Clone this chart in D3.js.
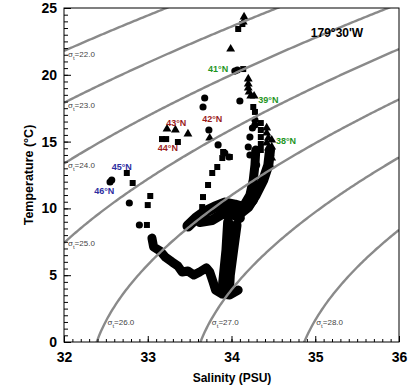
<!DOCTYPE html>
<html>
<head>
<meta charset="utf-8">
<script src="https://cdn.jsdelivr.net/npm/d3@7"></script>
<style>
body { margin: 0; background: #fff; }
text { font-family: Arial, "Liberation Sans", sans-serif; }
</style>
</head>
<body>
<script>
// isopycnal levels (sigma-t)
var sigmaLevels = [22, 23, 24, 25, 26, 27, 28]

var xTicks = [32, 33, 34, 35, 36]
var yTicks = [0, 5, 10, 15, 20, 25]

// station labels, [salinity, temperature] of the label centre
var stationNames = ['46°N', '45°N', '44°N', '43°N', '42°N', '41°N', '39°N', '38°N']
var stationPos = [[32.48, 11.30], [32.69, 13.10], [33.24, 14.52], [33.34, 16.39],
    [33.77, 16.69], [33.84, 20.43], [34.44, 18.11], [34.65, 15.04]]
var stationGroup = ['n', 'n', 'm', 'm', 'm', 's', 's', 's']

// sparse samples, [S, T]
var circles = [[32.55, 11.98], [32.57, 12.13], [32.78, 10.40], [32.90, 8.76],
    [33.68, 18.26], [33.66, 17.59], [33.73, 15.87], [33.84, 14.75],
    [34.04, 20.28], [34.07, 20.36], [34.10, 18.04],
    [34.28, 16.62], [34.28, 16.24], [34.25, 16.02], [34.22, 15.34], [34.20, 14.60],
    [34.22, 14.00], [34.28, 13.85], [34.30, 13.25], [33.92, 14.15], [33.97, 13.85]]

var squares = [[32.75, 12.65], [32.82, 11.90], [33.03, 10.93], [33.00, 10.25], [32.99, 8.76],
    [33.17, 15.19], [33.22, 15.19], [33.36, 14.97],
    [34.08, 23.43], [34.13, 23.80], [34.14, 20.43], [34.26, 17.59], [34.28, 17.22],
    [33.90, 14.22], [33.98, 13.85], [33.89, 13.77], [33.83, 13.10], [33.77, 12.65],
    [33.72, 11.75], [33.66, 10.85], [33.65, 10.10], [33.56, 9.13],
    [34.35, 16.39], [34.35, 15.87], [34.35, 15.34], [34.35, 14.82], [34.35, 14.37]]

var triangles = [[34.15, 24.33], [34.14, 23.95], [33.99, 21.93],
    [34.20, 19.69], [34.20, 19.31], [34.20, 19.01], [34.21, 18.71], [34.23, 18.41], [34.27, 18.41],
    [33.23, 15.94], [33.33, 15.87], [33.48, 15.57], [33.74, 15.27],
    [34.42, 16.02], [34.42, 15.64], [34.44, 15.27], [34.42, 14.90], [34.48, 15.12],
    [34.48, 14.60], [34.44, 14.52], [34.46, 14.15], [34.48, 13.77], [34.44, 13.62], [34.46, 13.25]]

// dense CTD traces (markers overlap into solid bands)
var traceShelf = [[33.05, 7.78], [33.07, 7.11], [33.15, 6.81], [33.21, 6.36], [33.29, 5.99],
    [33.36, 5.69], [33.41, 5.24], [33.48, 5.31], [33.55, 5.01], [33.62, 5.24], [33.70, 5.54],
    [33.74, 5.24], [33.78, 4.49], [33.81, 3.89], [33.89, 3.59], [33.98, 3.52], [34.08, 3.89]]
var traceStemA = [[33.96, 8.98], [33.94, 6.89], [33.91, 5.01], [33.89, 3.74]]
var traceStemB = [[34.06, 8.76], [34.02, 6.89], [33.98, 5.01], [33.97, 3.89]]
var traceBlobA = [[33.48, 8.68], [33.58, 9.28], [33.68, 9.73], [33.80, 10.10], [33.92, 10.40],
    [34.04, 10.25], [34.16, 10.03], [34.25, 10.63]]
var traceBlobB = [[33.62, 8.98], [33.77, 9.13], [33.89, 9.58], [34.01, 9.58], [34.10, 9.28]]
var traceArmA = [[34.46, 14.37], [34.44, 13.25], [34.38, 12.13], [34.29, 11.00], [34.20, 10.10], [34.08, 9.51]]
var traceArmB = [[34.29, 14.37], [34.28, 13.25], [34.26, 12.13], [34.22, 11.00], [34.15, 10.25]]

var traces = [traceShelf, traceStemA, traceStemB, traceBlobA, traceBlobB, traceArmA, traceArmB]
var traceWidths = [9, 10, 10, 11, 10, 10, 9]

var groupColor = {n: '#2d2d9f', m: '#9b1c1c', s: '#1f951f'}

var W = 413, H = 390
var x = d3.scaleLinear().domain([32, 36]).range([64, 399])
var y = d3.scaleLinear().domain([0, 25]).range([342, 8])

// UNESCO 1981 density at surface pressure, minus 1000
function sigmaT(S, T) {
    var rw = 999.842594 + 6.793952e-2 * T - 9.095290e-3 * T * T + 1.001685e-4 * Math.pow(T, 3)
        - 1.120083e-6 * Math.pow(T, 4) + 6.536332e-9 * Math.pow(T, 5)
    var a = 0.824493 - 4.0899e-3 * T + 7.6438e-5 * T * T - 8.2467e-7 * Math.pow(T, 3) + 5.3875e-9 * Math.pow(T, 4)
    var b = -5.72466e-3 + 1.0227e-4 * T - 1.6546e-6 * T * T
    return rw + a * S + b * Math.pow(S, 1.5) + 4.8314e-4 * S * S - 1000
}

// temperature on an isopycnal for a given salinity
function tempFor(S, sig) {
    var lo = -4, hi = 40
    for (var i = 0; i < 50; i++) {
        var mid = (lo + hi) / 2
        if (sigmaT(S, mid) > sig) lo = mid
        else hi = mid
    }
    return (lo + hi) / 2
}

// salinity where an isopycnal reaches temperature t
function saltFor(t, sig) {
    var lo = 30, hi = 38
    for (var i = 0; i < 50; i++) {
        var mid = (lo + hi) / 2
        if (sigmaT(mid, t) < sig) lo = mid
        else hi = mid
    }
    return (lo + hi) / 2
}

var svg = d3.select('body').append('svg')
    .attr('width', W)
    .attr('height', H)

svg.append('clipPath').attr('id', 'plot')
    .append('rect')
    .attr('x', 64).attr('y', 8)
    .attr('width', 335).attr('height', 334)

var plot = svg.append('g').attr('clip-path', 'url(#plot)')

var line = d3.line()
    .x(function (d) { return x(d[0]) })
    .y(function (d) { return y(d[1]) })

plot.selectAll('path.trace')
    .data(traces)
    .enter()
    .append('path')
    .attr('class', 'trace')
    .attr('d', line)
    .attr('fill', 'none')
    .attr('stroke', '#000')
    .attr('stroke-linejoin', 'round')
    .attr('stroke-linecap', 'round')
    .attr('stroke-width', function (d, i) { return traceWidths[i] })

function drawMarks(data, type, size) {
    plot.append('g').selectAll('path')
        .data(data)
        .enter()
        .append('path')
        .attr('transform', function (d) { return 'translate(' + x(d[0]) + ',' + y(d[1]) + ')' })
        .attr('d', d3.symbol().type(type).size(size))
        .attr('fill', '#000')
}
drawMarks(circles, d3.symbolCircle, 40)
drawMarks(squares, d3.symbolSquare, 36)
drawMarks(triangles, d3.symbolTriangle, 34)

// isopycnals
var salts = d3.range(32, 36.001, 0.02)
plot.selectAll('path.iso')
    .data(sigmaLevels)
    .enter()
    .append('path')
    .attr('class', 'iso')
    .attr('d', function (sig) {
        return line(salts.map(function (s) { return [s, tempFor(s, sig)] }))
    })
    .attr('fill', 'none')
    .attr('stroke', '#8a8a8a')
    .attr('stroke-width', 2.4)

// isopycnal labels
sigmaLevels.forEach(function (sig) {
    var t0 = tempFor(32, sig)
    var px, py
    if (t0 > 0 && t0 < 25) {
        px = 68
        py = y(tempFor(32.06, sig)) + 8
    } else {
        px = x(saltFor(1.5, sig)) + 2
        py = y(1.5) + 3
    }
    var t = svg.append('text')
        .attr('x', px).attr('y', py)
        .attr('font-size', 8)
        .attr('fill', '#444')
    t.append('tspan').text('σ')
    t.append('tspan').attr('font-size', 6).attr('dy', 3).text('t')
    t.append('tspan').attr('dy', -3).text('=' + sig.toFixed(1))
})

// frame
svg.append('rect')
    .attr('x', 64).attr('y', 8)
    .attr('width', 335).attr('height', 334)
    .attr('fill', 'none')
    .attr('stroke', '#000')
    .attr('stroke-width', 1)

// axes, ticks pointing inward
var xMinor = d3.range(32, 36.001, 0.1)
var yMinor = d3.range(0, 25.001, 0.5)

svg.append('g')
    .attr('transform', 'translate(0,342)')
    .call(d3.axisBottom(x).tickValues(xMinor).tickSize(-3).tickFormat(''))
    .call(function (g) { g.select('.domain').remove() })

svg.append('g')
    .attr('transform', 'translate(64,0)')
    .call(d3.axisLeft(y).tickValues(yMinor).tickSize(-4).tickFormat(''))
    .call(function (g) { g.select('.domain').remove() })

var xAxis = svg.append('g')
    .attr('transform', 'translate(0,342)')
    .call(d3.axisBottom(x).tickValues(xTicks).tickSize(-6).tickPadding(10).tickFormat(d3.format('d')))
xAxis.select('.domain').remove()

var yAxis = svg.append('g')
    .attr('transform', 'translate(64,0)')
    .call(d3.axisLeft(y).tickValues(yTicks).tickSize(-7).tickPadding(7).tickFormat(d3.format('d')))
yAxis.select('.domain').remove()

svg.selectAll('.tick text')
    .attr('font-family', 'Arial, "Liberation Sans", sans-serif')
    .attr('font-size', 14)
    .attr('font-weight', 'bold')
    .attr('fill', '#000')

// station labels
svg.selectAll('text.station')
    .data(stationNames)
    .enter()
    .append('text')
    .attr('class', 'station')
    .attr('x', function (d, i) { return x(stationPos[i][0]) })
    .attr('y', function (d, i) { return y(stationPos[i][1]) })
    .attr('dy', '0.35em')
    .attr('text-anchor', 'middle')
    .attr('font-size', 9)
    .attr('font-weight', 'bold')
    .attr('fill', function (d, i) { return groupColor[stationGroup[i]] })
    .text(function (d) { return d })

svg.append('text')
    .attr('x', x(35.26)).attr('y', y(23.13))
    .attr('dy', '0.35em')
    .attr('text-anchor', 'middle')
    .attr('font-size', 12)
    .attr('font-weight', 'bold')
    .text("179°30'W")

svg.append('text')
    .attr('x', 232).attr('y', 382)
    .attr('text-anchor', 'middle')
    .attr('font-size', 12)
    .attr('font-weight', 'bold')
    .text('Salinity (PSU)')

svg.append('text')
    .attr('transform', 'translate(33,175) rotate(-90)')
    .attr('text-anchor', 'middle')
    .attr('font-size', 12.5)
    .attr('font-weight', 'bold')
    .text('Temperature (°C)')
</script>
</body>
</html>
